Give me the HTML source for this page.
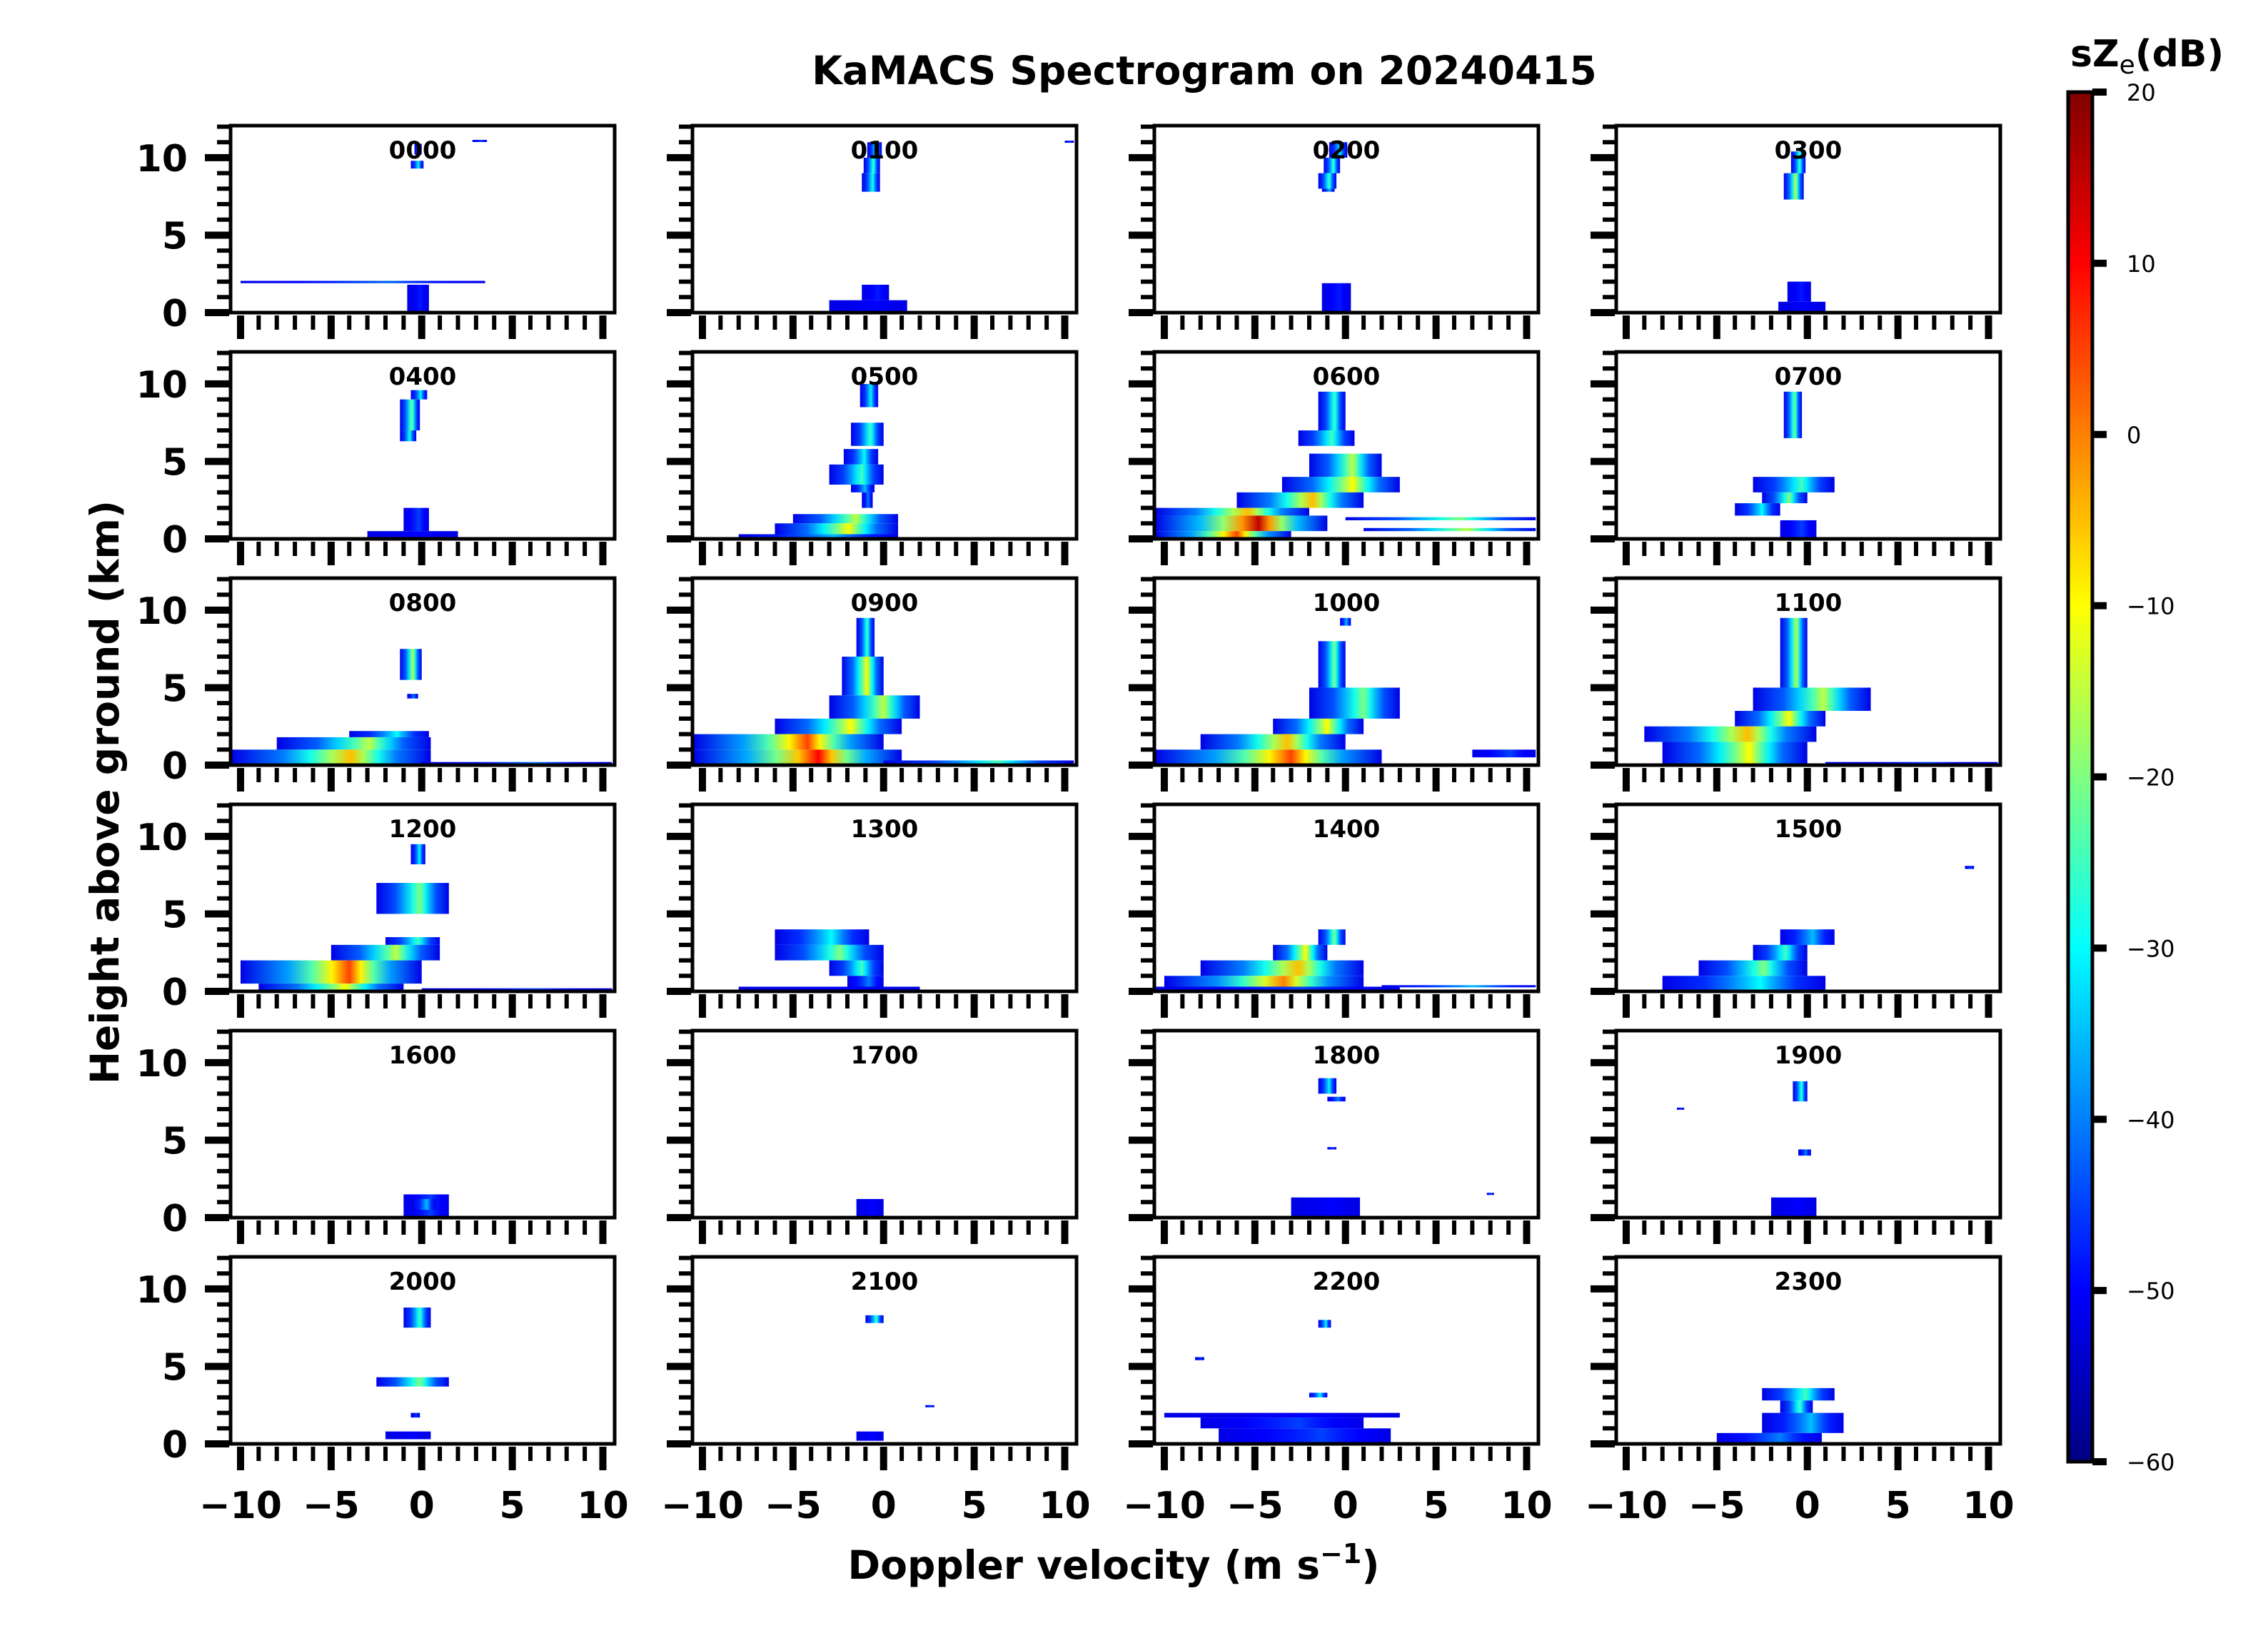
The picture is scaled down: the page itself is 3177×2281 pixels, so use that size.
<!DOCTYPE html>
<html><head><meta charset="utf-8"><style>
html,body{margin:0;padding:0;background:#fff;}
svg{display:block;font-family:"DejaVu Sans","Liberation Sans",sans-serif;}
</style></head><body>
<svg id="fig" xmlns="http://www.w3.org/2000/svg" width="3177" height="2281" viewBox="0 0 3177 2281">
<rect width="3177" height="2281" fill="#fff"/>
<defs id="defs"></defs>
<text x="1687" y="118" font-size="55" font-weight="bold" text-anchor="middle">KaMACS Spectrogram on 20240415</text>
<text transform="translate(166,1110) rotate(-90)" font-size="55" font-weight="bold" text-anchor="middle">Height above ground (km)</text>
<text x="1560" y="2212" font-size="55" font-weight="bold" text-anchor="middle">Doppler velocity (m s<tspan font-size="38" dy="-22">−1</tspan><tspan dy="22">)</tspan></text>
<g id="panels"></g>
<g id="cbar"></g>
</svg>
<script>
// ---- data ----
const panelTimes = ["0000","0100","0200","0300","0400","0500","0600","0700","0800","0900","1000","1100","1200","1300","1400","1500","1600","1700","1800","1900","2000","2100","2200","2300"];
const xTicks = [-10,-5,0,5,10];
const yTicks = [0,5,10];
const cbarTicks = [20,10,0,-10,-20,-30,-40,-50,-60];
// echo layers per panel: [heightBottom km, heightTop km, vMin m/s, vMax m/s, peak dB]
const echoes = [
 [[9.3,9.8,-0.6,0.1,-30],[10.2,10.9,-0.4,0,-35],[1.9,2.05,-10,3.5,-42],[0,1.8,-0.8,0.4,-48],[11.05,11.15,2.8,3.6,-45]],
 [[10,11,-0.9,-0.1,-30],[9,10,-1.1,-0.2,-25],[7.8,9,-1.2,-0.2,-28],[0.8,1.8,-1.2,0.3,-48],[0,0.8,-3,1.3,-50],[11,11.1,10,10.5,-45]],
 [[10,11,-0.9,0.1,-30],[9,10,-1.2,-0.3,-25],[8,9,-1.5,-0.5,-25],[7.8,8,-1.3,-0.6,-35],[0,1.9,-1.3,0.3,-48]],
 [[9,10.4,-0.9,-0.1,-25],[7.3,9,-1.3,-0.2,-15],[0.7,2,-1.1,0.2,-48],[0,0.7,-1.6,1.0,-50]],
 [[9,9.6,-0.6,0.3,-30],[7,9,-1.2,-0.1,-20],[6.3,7,-1.2,-0.3,-28],[0.5,2,-1,0.4,-45],[0,0.5,-3,2,-50]],
 [[8.5,10,-1.3,-0.3,-30],[6,7.5,-1.8,0,-25],[4.8,5.8,-2.2,-0.3,-30],[3.5,4.8,-3,0,-25],[3,3.5,-1.8,-0.5,-35],[2,3,-1.2,-0.6,-40],[1,1.6,-5,0.8,-15],[0.3,1,-6,0.8,-10],[0,0.3,-8,0.8,-35]],
 [[7,9.5,-1.5,0,-25],[6,7,-2.6,0.5,-25],[4,5.5,-2,2,-15],[3,4,-3.5,3,-10],[2,3,-6,1,-5],[1.5,2,-10.5,-2,-5],[0.5,1.5,-10.5,-1,15],[0,0.5,-10.5,-3,5],[1.2,1.4,0,10.5,-20],[0.5,0.7,1,10.5,-15]],
 [[6.5,9.5,-1.3,-0.3,-20],[3,4,-3,1.5,-25],[2.3,3,-2.5,0,-20],[1.5,2.3,-4,-1.5,-30],[0,1.2,-1.5,0.5,-45]],
 [[5.5,7.5,-1.2,0,-15],[4.3,4.6,-0.8,-0.2,-40],[1.8,2.2,-4,0.4,-30],[1,1.8,-8,0.5,-15],[0,1,-10.5,0.5,-5],[0,0.2,0,10.5,-40]],
 [[7,9.5,-1.5,-0.5,-25],[4.5,7,-2.3,0,-10],[3,4.5,-3,2,-15],[2,3,-6,1,-10],[1,2,-10.5,0,5],[0,1,-10.5,1,10],[0,0.3,0,10.5,-25]],
 [[9,9.5,-0.3,0.3,-35],[5,8,-1.5,0,-20],[3,5,-2,3,-20],[2,3,-4,1,-10],[1,2,-8,0,-5],[0,1,-10.5,2,5],[0.5,1,7,10.5,-45]],
 [[5,9.5,-1.5,0,-15],[3.5,5,-3,3.5,-15],[2.5,3.5,-4,1,-10],[1.5,2.5,-9,0.5,-5],[0,1.5,-8,0,-10],[0,0.2,1,10.5,-45]],
 [[8.2,9.5,-0.6,0.2,-30],[5,7,-2.5,1.5,-20],[3,3.5,-2,1,-25],[2,3,-5,1,-15],[0.5,2,-10,0,5],[0,0.5,-9,-1,-10],[0,0.2,0,10.5,-45]],
 [[3,4,-6,-0.8,-30],[2,3,-6,0,-20],[1,2,-3,0,-25],[0,1,-2,0,-40],[0,0.3,-8,2,-50]],
 [[3,4,-1.5,0,-20],[2,3,-4,-1,-10],[1,2,-8,1,-5],[0.3,1,-10,1,0],[0,0.3,-10.5,3,-45],[0.3,0.4,2,10.5,-35]],
 [[3,4,-1.5,1.5,-35],[2,3,-3,0,-25],[1,2,-6,0,-20],[0,1,-8,1,-30],[7.9,8.1,8.7,9.2,-45]],
 [[0,1.5,-1,1.5,-45],[0.5,1.2,-0.5,0.8,-35]],
 [[0,1.2,-1.5,0,-50]],
 [[8,9,-1.5,-0.5,-30],[7.5,7.8,-1,0,-40],[4.4,4.55,-1,-0.5,-45],[0,1.3,-3,0.8,-50],[1.5,1.6,7.8,8.2,-45]],
 [[7.5,8.8,-0.8,0,-25],[4,4.4,-0.5,0.2,-40],[0,1.3,-2,0.5,-50],[7,7.1,-7.2,-6.8,-45]],
 [[7.5,8.8,-1,0.5,-25],[3.7,4.3,-2.5,1.5,-20],[1.7,2,-0.6,-0.1,-45],[0.3,0.8,-2,0.5,-50]],
 [[7.8,8.3,-1,0,-25],[0.2,0.8,-1.5,0,-50],[2.4,2.5,2.3,2.8,-45]],
 [[7.5,8,-1.5,-0.8,-30],[3,3.3,-2,-1,-30],[1.7,2,-10,3,-50],[1,1.7,-8,1,-45],[0,1,-7,2.5,-45],[5.4,5.6,-8.3,-7.8,-45]],
 [[2.8,3.6,-2.5,1.5,-25],[2,2.8,-1.5,0.3,-25],[0.7,2,-2.5,2,-35],[0,0.7,-5,0.8,-40]]
];
// ---- layout ----
const NS="http://www.w3.org/2000/svg";
const colLeft=[323,970,1617,2264], rowTop=[176,493,810,1127,1444,1761];
const PW=538, PH=262, XMIN=-10.55, XMAX=10.65, YMIN=0, YMAX=12.07;
function jet(v){
  let t=Math.max(0,Math.min(1,(v+60)/80));
  const r=Math.max(0,Math.min(1,1.5-Math.abs(4*t-3)));
  const g=Math.max(0,Math.min(1,1.5-Math.abs(4*t-2)));
  const b=Math.max(0,Math.min(1,1.5-Math.abs(4*t-1)));
  return `rgb(${Math.round(r*255)},${Math.round(g*255)},${Math.round(b*255)})`;
}
function mk(tag,attrs,parent){const e=document.createElementNS(NS,tag);for(const k in attrs)e.setAttribute(k,attrs[k]);parent.appendChild(e);return e;}
const defs=document.getElementById('defs');
const panels=document.getElementById('panels');
let gid=0;
panelTimes.forEach((t,i)=>{
  const r=Math.floor(i/4), c=i%4;
  const L=colLeft[c], T=rowTop[r];
  const xs=v=>L+(v-XMIN)/(XMAX-XMIN)*PW;
  const ys=h=>T+PH-(h-YMIN)/(YMAX-YMIN)*PH;
  const g=mk('g',{},panels);
  
  
  const clipId='clip'+i;
  const cp=mk('clipPath',{id:clipId},defs);
  mk('rect',{x:L,y:T,width:PW,height:PH},cp);
  const eg=mk('g',{'clip-path':`url(#${clipId})`},g);
  echoes[i].forEach((e,j)=>{
    const [h0,h1,v0,v1,pk]=e;
    const id='gr'+(gid++);
    const lg=mk('linearGradient',{id:id,x1:0,x2:1,y1:0,y2:0},defs);
    const lo=-52, n=4, pos=0.6;
    for(let k=0;k<=n;k++) mk('stop',{offset:(pos*Math.pow(k/n,0.6)).toFixed(3),'stop-color':jet(lo+(pk-lo)*k/n)},lg);
    for(let k=n-1;k>=0;k--) mk('stop',{offset:(1-(1-pos)*Math.pow(k/n,0.6)).toFixed(3),'stop-color':jet(lo+(pk-lo)*k/n)},lg);
    const rc=mk('rect',{x:xs(v0),y:ys(h1),width:Math.max(2,xs(v1)-xs(v0)),height:Math.max(3,ys(h0)-ys(h1)),fill:`url(#${id})`},eg);
    
    
  });
  const tt=mk('text',{x:L+PW/2,y:T+46,'font-size':34,'font-weight':'bold','text-anchor':'middle'},g);
  tt.textContent=t;
  
  
  const sp=mk('rect',{x:L,y:T,width:PW,height:PH,fill:'none',stroke:'#000','stroke-width':5},g);
  
  
  for(let h=0;h<=12;h++){
    const maj=h%5===0;
    const tk=mk('line',{x1:L-2,x2:L-(maj?36:19),y1:ys(h),y2:ys(h),stroke:'#000','stroke-width':maj?10:6},g);
    
    
  }
  if(c===0){ yTicks.forEach(h=>{
    const lb=mk('text',{x:L-60,y:ys(h)+19,'font-size':52,'font-weight':'bold','text-anchor':'end'},g);
    lb.textContent=String(h);
    
    
  });}
  for(let v=-10;v<=10;v++){
    const maj=v%5===0;
    const tk=mk('line',{x1:xs(v),x2:xs(v),y1:T+PH+4,y2:T+PH+(maj?37:24),stroke:'#000','stroke-width':maj?10:6},g);
    
    
  }
  if(r===5){ xTicks.forEach(v=>{
    const lb=mk('text',{x:xs(v),y:T+PH+104,'font-size':52,'font-weight':'bold','text-anchor':'middle'},g);
    lb.textContent=String(v).replace('-','\u2212');
    
    
  });}
});
const cb=document.getElementById('cbar');


const CBL=2897, CBR=2931, CBT=129, CBB=2048;
const cg=mk('linearGradient',{id:'cbgrad',x1:0,x2:0,y1:1,y2:0},defs);
for(let k=0;k<=16;k++) mk('stop',{offset:k/16,'stop-color':jet(-60+80*k/16)},cg);
const cr=mk('rect',{x:CBL,y:CBT,width:CBR-CBL,height:CBB-CBT,fill:'url(#cbgrad)',stroke:'#000','stroke-width':5},cb);


const cy=v=>CBB-(v+60)/80*(CBB-CBT);
cbarTicks.forEach(v=>{
  const tk=mk('line',{x1:CBR,x2:CBR+20,y1:cy(v),y2:cy(v),stroke:'#000','stroke-width':10},cb);
  
  
  const lb=mk('text',{x:CBR+48,y:cy(v)+12,'font-size':32},cb);
  lb.textContent=String(v).replace('-','\u2212');
  
  
});
const ct=mk('text',{x:2900,y:93,'font-size':52,'font-weight':'bold'},cb);
ct.innerHTML='sZ<tspan font-weight="normal" font-size="36" dy="10">e</tspan><tspan dy="-10">(dB)</tspan>';


</script>
</body></html>
